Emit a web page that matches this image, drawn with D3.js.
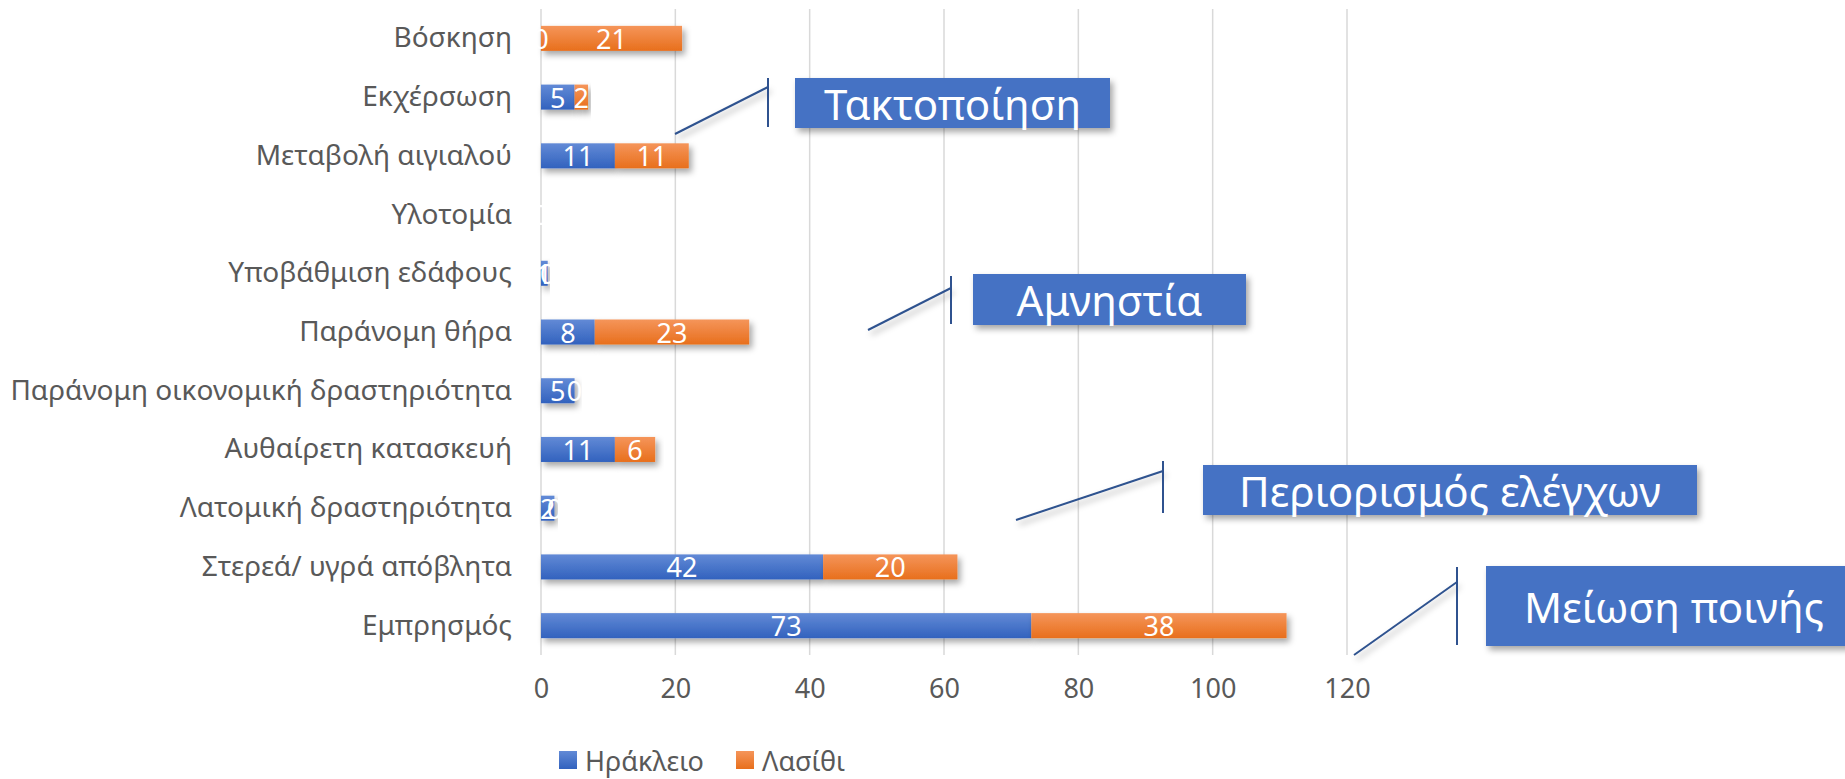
<!DOCTYPE html>
<html>
<head>
<meta charset="utf-8">
<script src="https://cdn.jsdelivr.net/npm/d3@7"></script>
<style>
  html, body { margin: 0; padding: 0; background: #ffffff; }
  svg { display: block; }
  text { font-family: "Noto Sans", "Open Sans", sans-serif; }
</style>
</head>
<body>
<svg id="chart" width="1845" height="779"></svg>
<script>
// ---------- DATA ----------
const categories = [
  "Βόσκηση",
  "Εκχέρσωση",
  "Μεταβολή αιγιαλού",
  "Υλοτομία",
  "Υποβάθμιση εδάφους",
  "Παράνομη θήρα",
  "Παράνομη οικονομική δραστηριότητα",
  "Αυθαίρετη κατασκευή",
  "Λατομική δραστηριότητα",
  "Στερεά/ υγρά απόβλητα",
  "Εμπρησμός"
];
const seriesNames = ["Ηράκλειο", "Λασίθι"];
const heraklion = [0, 5, 11, 0, 1, 8, 5, 11, 2, 42, 73];
const lasithi   = [21, 2, 11, 0, 0, 23, 0, 6, 0, 20, 38];
const xTicks = [0, 20, 40, 60, 80, 100, 120];
const callouts = ["Τακτοποίηση", "Αμνηστία", "Περιορισμός ελέγχων", "Μείωση ποινής"];

// ---------- LAYOUT / STYLE ----------
const W = 1845, H = 779;
const plot = { left: 541, right: 1347, top: 9, bottom: 655 };
const colors = {
  blueTop: "#628AD6", blueBot: "#3262BE",
  orangeTop: "#F5955A", orangeBot: "#E86F1C",
  grid: "#D9D9D9", text: "#595959",
  box: "#4472C4", line: "#2F528F"
};
// annotation geometry (pixel layout of the callout shapes)
const calloutLayout = [
  { box: [795, 78, 315, 50],  fs: 42, vx: 768,  vy: [78, 127],  diag: [[675, 134], [768, 87]] },
  { box: [973, 274, 273, 51], fs: 42, vx: 951,  vy: [276, 324], diag: [[868, 330], [951, 288]] },
  { box: [1203, 465, 494, 50], fs: 42, vx: 1163, vy: [461, 513], diag: [[1016, 520], [1163, 471]] },
  { box: [1486, 566, 380, 80], fs: 42, vx: 1457, vy: [567, 645], diag: [[1354, 655], [1457, 582]] }
];

const svg = d3.select("#chart");
const defs = svg.append("defs");

function vGrad(id, top, bot) {
  const g = defs.append("linearGradient").attr("id", id)
    .attr("x1", 0).attr("y1", 0).attr("x2", 0).attr("y2", 1);
  g.append("stop").attr("offset", "0%").attr("stop-color", top);
  g.append("stop").attr("offset", "100%").attr("stop-color", bot);
}
vGrad("gBlue", colors.blueTop, colors.blueBot);
vGrad("gOrange", colors.orangeTop, colors.orangeBot);

const shadow = defs.append("filter").attr("id", "shadow")
  .attr("x", "-10%").attr("y", "-30%").attr("width", "130%").attr("height", "190%");
shadow.append("feDropShadow").attr("dx", 3).attr("dy", 4)
  .attr("stdDeviation", 3).attr("flood-color", "#000").attr("flood-opacity", 0.35);

const x = d3.scaleLinear().domain([0, 120]).range([plot.left, plot.right]);
const y = d3.scaleBand().domain(categories).range([plot.top, plot.bottom])
  .paddingInner(0.574).paddingOuter(0.287);

// gridlines
svg.append("g").selectAll("line").data(xTicks).join("line")
  .attr("x1", d => x(d)).attr("x2", d => x(d))
  .attr("y1", plot.top).attr("y2", plot.bottom)
  .attr("stroke", colors.grid).attr("stroke-width", 1.5);

// x axis labels
const xAxis = d3.axisBottom(x).tickValues(xTicks).tickSize(0).tickPadding(0);
const gx = svg.append("g").attr("transform", `translate(0, ${plot.bottom + 24})`).call(xAxis);
gx.select(".domain").remove();
gx.selectAll("text").attr("font-size", 27).attr("fill", colors.text)
  .attr("font-family", "Noto Sans").attr("dy", "0.71em");

// category labels
const yAxis = d3.axisLeft(y).tickSize(0).tickPadding(29);
const gy = svg.append("g").attr("transform", `translate(${plot.left}, 0)`).call(yAxis);
gy.select(".domain").remove();
gy.selectAll("text").attr("font-size", 28).attr("fill", colors.text)
  .attr("font-family", "Noto Sans");

// stacked bars
const rows = categories.map((c, i) => ({ cat: c, h: heraklion[i], l: lasithi[i] }));
const stack = d3.stack().keys(["h", "l"])(rows);
const fills = ["url(#gBlue)", "url(#gOrange)"];

const barG = svg.append("g");
stack.forEach((layer, k) => {
  barG.append("g").selectAll("rect").data(layer).join("rect")
    .attr("x", d => x(d[0]))
    .attr("y", d => y(d.data.cat))
    .attr("width", d => Math.max(0, x(d[1]) - x(d[0])))
    .attr("height", y.bandwidth())
    .attr("fill", fills[k])
    .attr("filter", d => (d[1] - d[0]) > 0 ? "url(#shadow)" : null);
});
// data labels
stack.forEach((layer, k) => {
  barG.append("g").selectAll("text").data(layer).join("text")
    .attr("x", d => x((d[0] + d[1]) / 2))
    .attr("y", d => y(d.data.cat) + y.bandwidth() / 2)
    .attr("text-anchor", "middle").attr("dominant-baseline", "central")
    .attr("font-size", 27).attr("fill", "#ffffff")
    .text(d => d[1] - d[0]);
});

// legend
const legend = svg.append("g").attr("transform", `translate(559, 760)`);
const legendX = [0, 177];
seriesNames.forEach((name, i) => {
  const g = legend.append("g").attr("transform", `translate(${legendX[i]}, 0)`);
  g.append("rect").attr("x", 0).attr("y", -9).attr("width", 18).attr("height", 18)
    .attr("fill", fills[i]);
  g.append("text").attr("x", 26).attr("y", 0).attr("dominant-baseline", "central")
    .attr("font-size", 27).attr("fill", colors.text).text(name);
});

// callouts
const cg = svg.append("g");
callouts.forEach((label, i) => {
  const L = calloutLayout[i];
  const g = cg.append("g");
  g.append("line")
    .attr("x1", L.diag[0][0]).attr("y1", L.diag[0][1])
    .attr("x2", L.diag[1][0]).attr("y2", L.diag[1][1])
    .attr("stroke", colors.line).attr("stroke-width", 2).attr("filter", "url(#shadow)");
  g.append("line")
    .attr("x1", L.vx).attr("x2", L.vx).attr("y1", L.vy[0]).attr("y2", L.vy[1])
    .attr("stroke", colors.line).attr("stroke-width", 2);
  g.append("rect")
    .attr("x", L.box[0]).attr("y", L.box[1]).attr("width", L.box[2]).attr("height", L.box[3])
    .attr("fill", colors.box).attr("filter", "url(#shadow)");
  const tx = i === 3 ? L.box[0] + 38 : L.box[0] + L.box[2] / 2;
  g.append("text")
    .attr("x", tx).attr("y", L.box[1] + L.box[3] / 2)
    .attr("text-anchor", i === 3 ? "start" : "middle")
    .attr("dominant-baseline", "central")
    .attr("font-size", L.fs).attr("fill", "#ffffff").text(label);
});
</script>
</body>
</html>
